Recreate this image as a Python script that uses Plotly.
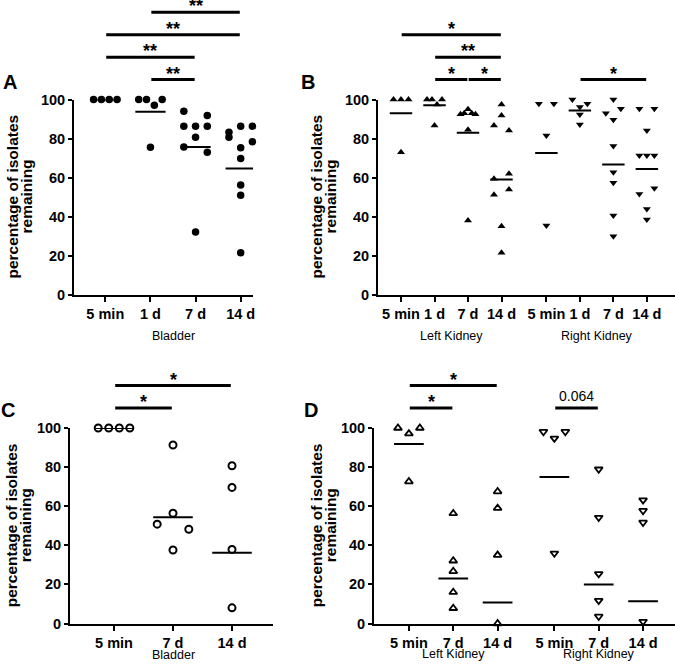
import plotly.graph_objects as go

PIC_W, PIC_H = 675, 670
FIG_W, FIG_H = 675, 662
FONT = "Liberation Sans, Arial, sans-serif"

# ---------------- data ----------------
# Panel A: bladder (filled circles)
A_labels = ["5 min", "1 d", "7 d", "14 d"]
A_5min = [100, 100, 100, 100]
A_1d = [100, 100, 97, 100, 75.5]
A_7d = [94, 91.8, 86.3, 86.3, 86.3, 80.7, 75.6, 73, 32.1]
A_14d = [83.2, 86.3, 86.3, 80.7, 78.3, 75.2, 69.7, 56.1, 50.9, 21.4]
A_centre = [100, 93.7, 75.6, 64.6]

# Panel B: kidneys (filled triangles)
B_labels = ["5 min", "1 d", "7 d", "14 d"]
B_LK_5min = [100, 100, 100, 73]
B_LK_1d = [100, 100, 97.4, 100, 86.7]
B_LK_7d = [92.5, 93, 95, 93, 92.5, 84.5, 38]
B_LK_14d = [97.4, 91.8, 86.7, 84.1, 59.3, 61.9, 51.1, 53.8, 35, 21.4]
B_RK_5min = [97.8, 97.8, 81.5, 35.4]
B_RK_1d = [100, 97.8, 96.1, 92.3, 87.2]
B_RK_7d = [100, 93, 95.2, 89.6, 76.1, 62.7, 57.3, 40.5, 29.9]
B_RK_14d = [95.2, 95.2, 84.1, 71.3, 71.3, 71.3, 51.6, 54.5, 43.9, 38.5]
B_LK_centre = [93.0, 97.1, 82.9, 59.0]
B_RK_centre = [72.5, 94.4, 66.7, 64.3]

# Panel C: bladder (open circles)
C_labels = ["5 min", "7 d", "14 d"]
C_5min = [100, 100, 100, 100]
C_7d = [91.3, 56.4, 50.8, 48.2, 37.6]
C_14d = [80.7, 69.6, 37.9, 8.0]
C_centre = [100, 54.4, 36.2]

# Panel D: kidneys (open triangles)
D_labels = ["5 min", "7 d", "14 d"]
D_LK_5min = [100, 97.1, 100, 72.6]
D_LK_7d = [56.3, 32.1, 26.7, 16.0, 7.8]
D_LK_14d = [67.5, 59.0, 35.0, 0]
D_RK_5min = [98.1, 94.7, 98.1, 35.9]
D_RK_7d = [78.9, 54.2, 25.4, 11.7, 3.6]
D_RK_14d = [63.1, 57.7, 51.7, 1]
D_LK_centre = [91.8, 23.0, 10.7]
D_RK_centre = [75.0, 19.9, 11.4]

# significance comparisons: (group, from index, to index, label, level)
A_sig = [("", 1, 3, "**", 3), ("", 0, 3, "**", 2), ("", 0, 2, "**", 1), ("", 1, 2, "**", 0)]
B_sig = [("LK", 0, 3, "*", 2), ("LK", 1, 3, "**", 1), ("LK", 1, 2, "*", 0),
         ("LK", 2, 3, "*", 0), ("RK", 1, 3, "*", 0)]
C_sig = [("", 0, 2, "*", 1), ("", 0, 1, "*", 0)]
D_sig = [("LK", 0, 2, "*", 1), ("LK", 0, 1, "*", 0), ("RK", 0, 1, "0.064", 0)]

# ---------------- layout geometry (picture pixels) ----------------
panels = {
    "A": dict(ax="", dom=(74, 253), ypx=(294.5, 99.5), xr=(-0.694, 3.273), W=0.26,
              title_x=(11.5, 25.5), letter=(10, 82), glabel_y=336),
    "B": dict(ax="2", dom=(378, 675), ypx=(294.5, 99.5), xr=(-0.687, 8.18), W=0.224,
              title_x=(315.5, 329.5), letter=(307.5, 82), glabel_y=336),
    "C": dict(ax="3", dom=(70, 273), ypx=(623.5, 428), xr=(-0.746, 2.695), W=0.268,
              title_x=(11.5, 25.5), letter=(8, 409.5), glabel_y=655),
    "D": dict(ax="4", dom=(374, 675), ypx=(623.5, 428), xr=(-0.787, 6.0), W=0.247,
              title_x=(316.5, 330.5), letter=(311, 409.5), glabel_y=653.5),
}
GAP_B = 0.34
GAP_D = 0.28
ROW_TOL = 3.6
HALF_LINE = 0.335
LEVEL_BASE = 110.2
LEVEL_STEP = 11.5


def fx(px):
    return min(1.0, max(0.0, px / FIG_W))


def fy(py):
    return min(1.0, max(0.0, 1 - py / FIG_H))


def swarm(values, half_width, row_tol=ROW_TOL):
    order = sorted(range(len(values)), key=lambda i: -values[i])
    rows = []
    for i in order:
        if rows and values[rows[-1][0]] - values[i] <= row_tol:
            rows[-1].append(i)
        else:
            rows.append([i])
    off = [0.0] * len(values)
    for row in rows:
        row = sorted(row)
        n = len(row)
        for k, i in enumerate(row):
            off[i] = 0.0 if n == 1 else -half_width + 2 * half_width * k / (n - 1)
    return off


fig = go.Figure()


def add_groups(p, groups, positions, centres, marker):
    P = panels[p]
    xa, ya = "x" + P["ax"], "y" + P["ax"]
    lx, ly = [], []
    for vals, pos, c in zip(groups, positions, centres):
        off = swarm(vals, P["W"])
        fig.add_trace(go.Scatter(
            x=[pos + o for o in off], y=vals, mode="markers", marker=marker,
            xaxis=xa, yaxis=ya, showlegend=False, cliponaxis=False, hoverinfo="y"))
        lx += [pos - HALF_LINE, pos + HALF_LINE, None]
        ly += [c, c, None]
    fig.add_trace(go.Scatter(x=lx, y=ly, mode="lines", line=dict(color="black", width=2),
                             xaxis=xa, yaxis=ya, showlegend=False, hoverinfo="skip"))


posA = [0, 1, 2, 3]
posB_LK = [0, 1, 2, 3]
posB_RK = [3 + 1 + GAP_B + i for i in range(4)]
posC = [0, 1, 2]
posD_LK = [0, 1, 2]
posD_RK = [2 + 1 + GAP_D + i for i in range(3)]

mkA = dict(symbol="circle", size=7.5, color="black")
add_groups("A", [A_5min, A_1d, A_7d, A_14d], posA, A_centre, mkA)

mkB_up = dict(symbol="triangle-up", size=7, color="black")
mkB_dn = dict(symbol="triangle-down", size=7, color="black")
add_groups("B", [B_LK_5min, B_LK_1d, B_LK_7d, B_LK_14d], posB_LK, B_LK_centre, mkB_up)
add_groups("B", [B_RK_5min, B_RK_1d, B_RK_7d, B_RK_14d], posB_RK, B_RK_centre, mkB_dn)

mkC = dict(symbol="circle-open", size=7, color="black", line=dict(width=2, color="black"))
add_groups("C", [C_5min, C_7d, C_14d], posC, C_centre, mkC)

mkD_up = dict(symbol="triangle-up-open", size=7, color="black", line=dict(width=1.8, color="black"))
mkD_dn = dict(symbol="triangle-down-open", size=7, color="black", line=dict(width=1.8, color="black"))
add_groups("D", [D_LK_5min, D_LK_7d, D_LK_14d], posD_LK, D_LK_centre, mkD_up)
add_groups("D", [D_RK_5min, D_RK_7d, D_RK_14d], posD_RK, D_RK_centre, mkD_dn)

# ---------------- axes ----------------
layout = dict(width=FIG_W, height=FIG_H, margin=dict(l=0, r=0, t=0, b=0, pad=0),
              paper_bgcolor="white", plot_bgcolor="white", showlegend=False,
              font=dict(family=FONT, color="black"))

tick_pos = {"A": (posA, A_labels), "B": (posB_LK + posB_RK, B_labels + B_labels),
            "C": (posC, C_labels), "D": (posD_LK + posD_RK, D_labels + D_labels)}

for p, P in panels.items():
    key = P["ax"]
    tv, tt = tick_pos[p]
    x0p, x1p = P["dom"]
    r0, r1 = P["xr"]
    upp = (r1 - r0) / (x1p - x0p)
    x1c = min(x1p, FIG_W)
    xr = [r0, r0 + (x1c - x0p) * upp]
    layout["xaxis" + key] = dict(
        domain=[fx(x0p), fx(x1c)], range=xr,
        anchor="y" + key, showline=True, linewidth=2, linecolor="black",
        ticks="outside", ticklen=5, tickwidth=2, tickcolor="black",
        tickvals=tv, ticktext=tt, showgrid=False, zeroline=False, fixedrange=True,
        automargin=False, ticklabeloverflow="allow",
        tickfont=dict(family=FONT, size=14.5, color="black", weight="bold"))
    layout["yaxis" + key] = dict(
        domain=[fy(P["ypx"][0]), fy(P["ypx"][1])], range=[0, 100],
        anchor="x" + key, showline=True, linewidth=2, linecolor="black",
        ticks="outside", ticklen=4, tickwidth=2, tickcolor="black",
        tickvals=[0, 20, 40, 60, 80, 100], showgrid=False, zeroline=False, fixedrange=True,
        automargin=False, ticklabeloverflow="allow",
        tickfont=dict(family=FONT, size=14.5, color="black", weight="bold"))

fig.update_layout(**layout)

annotations = []
shapes = []

# panel letters, y titles, group labels
group_info = {
    "A": [("Bladder", posA)],
    "B": [("Left Kidney", posB_LK), ("Right Kidney", posB_RK)],
    "C": [("Bladder", posC)],
    "D": [("Left Kidney", posD_LK), ("Right Kidney", posD_RK)],
}
for p, P in panels.items():
    key = P["ax"]
    ymid = (P["ypx"][0] + P["ypx"][1]) / 2
    annotations.append(dict(text="<b>%s</b>" % p, xref="paper", yref="paper",
                            x=fx(P["letter"][0]), y=fy(P["letter"][1]),
                            xanchor="center", yanchor="middle", showarrow=False,
                            font=dict(family=FONT, size=20, color="black")))
    for txt, tx in zip(["percentage of isolates", "remaining"], P["title_x"]):
        annotations.append(dict(text="<b>%s</b>" % txt, xref="paper", yref="paper",
                                x=fx(tx), y=fy(ymid), textangle=-90,
                                xanchor="center", yanchor="middle", showarrow=False,
                                font=dict(family=FONT, size=15.5, color="black")))
    for txt, pos in group_info[p]:
        annotations.append(dict(text=txt, xref="x" + key, yref="paper",
                                x=sum(pos) / len(pos), y=fy(P["glabel_y"]),
                                xanchor="center", yanchor="middle", showarrow=False,
                                borderpad=0,
                                font=dict(family=FONT, size=12.5, color="black")))

# significance bars
sig_info = {"A": (A_sig, {"": posA}), "B": (B_sig, {"LK": posB_LK, "RK": posB_RK}),
            "C": (C_sig, {"": posC}), "D": (D_sig, {"LK": posD_LK, "RK": posD_RK})}
for p, (sigs, posmap) in sig_info.items():
    key = panels[p]["ax"]
    for grp, i0, i1, lab, lvl in sigs:
        pos = posmap[grp]
        yv = (LEVEL_BASE + LEVEL_STEP * lvl) / 100.0
        x0, x1 = pos[i0], pos[i1]
        shapes.append(dict(type="line", xref="x" + key, yref="y%s domain" % key,
                           x0=x0 + 0.02, x1=x1 - 0.02, y0=yv, y1=yv,
                           line=dict(color="black", width=3)))
        if lab.startswith("*"):
            annotations.append(dict(text="<b>%s</b>" % lab, xref="x" + key, yref="y%s domain" % key,
                                    x=(x0 + x1) / 2, y=yv, xanchor="center", yanchor="bottom",
                                    yshift=-5, showarrow=False, borderpad=0,
                                    font=dict(family=FONT, size=18, color="black")))
        else:
            annotations.append(dict(text=lab, xref="x" + key, yref="y%s domain" % key,
                                    x=(x0 + x1) / 2, y=yv, xanchor="center", yanchor="middle",
                                    yshift=12, showarrow=False,
                                    font=dict(family=FONT, size=14, color="black")))

fig.update_layout(annotations=annotations, shapes=shapes)
fig.write_html(
    "out.html",
    config={"displayModeBar": False},
    post_script=("document.documentElement.style.margin='0';"
                 "document.body.style.margin='0';document.body.style.padding='0';"),
)
